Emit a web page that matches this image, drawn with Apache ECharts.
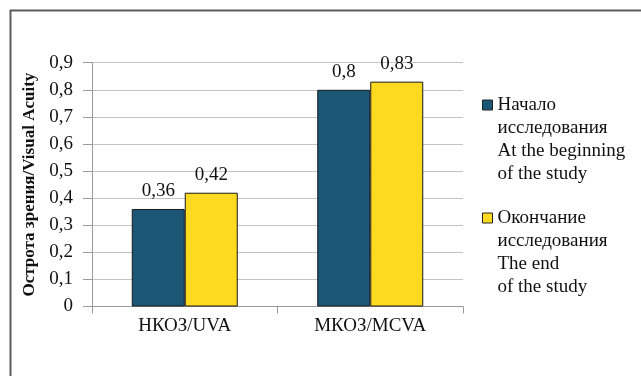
<!DOCTYPE html>
<html>
<head>
<meta charset="utf-8">
<script src="https://cdn.jsdelivr.net/npm/echarts@6/dist/echarts.min.js"></script>
<style>
  html, body { margin: 0; padding: 0; background: #ffffff; }
  #chart { width: 641px; height: 376px; }
</style>
</head>
<body>
<div id="chart"></div>
<script>
// Visual acuity before and after the study
const categories = ['НКОЗ/UVA', 'МКОЗ/MCVA'];
const seriesNames = [
  'Начало\nисследования\nAt the beginning\nof the study',
  'Окончание\nисследования\nThe end\nof the study'
];
const startValues = [0.36, 0.8];
const endValues = [0.42, 0.83];
const yTicks = { min: 0, max: 0.9, step: 0.1 };

const FONT = '"Liberation Serif", "Times New Roman", serif';
const FS = 19;
const LINE_H = 23;
const comma = v => (v === 0 ? '0' : String(+v.toFixed(2)).replace('.', ','));

const chart = echarts.init(document.getElementById('chart'), null, { renderer: 'canvas' });

// Three blank lines ahead of the name keep the marker level with its first line
const legendBase = {
  orient: 'vertical',
  left: 482,
  padding: 0,
  itemWidth: 10,
  itemHeight: 10,
  icon: 'rect',
  selectedMode: false,
  itemStyle: { borderColor: '#222', borderWidth: 1 },
  formatter: name => '\n\n\n' + name,
  textStyle: { fontFamily: FONT, fontSize: FS, color: '#111', lineHeight: LINE_H }
};

chart.setOption({
  animation: false,
  backgroundColor: '#ffffff',
  graphic: [{
    type: 'rect',
    left: 8, top: 8,
    shape: { width: 700, height: 420 },
    style: { fill: 'none', stroke: '#5c5c5c', lineWidth: 2 },
    silent: true
  }],
  grid: { left: 92, right: 178, top: 62.7, bottom: 69.5, containLabel: false },
  legend: [
    Object.assign({}, legendBase, { top: 105 - LINE_H * 3.5, data: [seriesNames[0]] }),
    Object.assign({}, legendBase, { top: 218 - LINE_H * 3.5, data: [seriesNames[1]] })
  ],
  xAxis: {
    type: 'category',
    data: categories,
    axisLine: { lineStyle: { color: '#9a9a9a', width: 1 } },
    axisTick: { show: true, length: 7, lineStyle: { color: '#9a9a9a' } },
    axisLabel: { fontFamily: FONT, fontSize: FS, color: '#111', margin: 10 }
  },
  yAxis: {
    type: 'value',
    min: yTicks.min,
    max: yTicks.max,
    interval: yTicks.step,
    name: 'Острота зрения/Visual Acuity',
    nameLocation: 'middle',
    nameGap: 51,
    nameTextStyle: { fontFamily: FONT, fontSize: 17, fontWeight: 'bold', color: '#111' },
    axisLine: { show: true, lineStyle: { color: '#9a9a9a', width: 1 } },
    axisTick: { show: true, length: 9, lineStyle: { color: '#9a9a9a' } },
    axisLabel: { fontFamily: FONT, fontSize: FS, color: '#111', margin: 19, formatter: comma },
    splitLine: { show: true, lineStyle: { color: '#c4c4c4', width: 1 } }
  },
  series: [
    {
      name: seriesNames[0],
      type: 'bar',
      data: startValues,
      barWidth: 53,
      barGap: '0%',
      itemStyle: { color: '#1b5677', borderColor: '#1a1a1a', borderWidth: 1 },
      label: {
        show: true, position: 'top', distance: 8,
        fontFamily: FONT, fontSize: FS, color: '#111',
        formatter: p => comma(p.value)
      }
    },
    {
      name: seriesNames[1],
      type: 'bar',
      data: endValues,
      barWidth: 53,
      barGap: '0%',
      itemStyle: { color: '#fdd91f', borderColor: '#1a1a1a', borderWidth: 1 },
      label: {
        show: true, position: 'top', distance: 8,
        fontFamily: FONT, fontSize: FS, color: '#111',
        formatter: p => comma(p.value)
      }
    }
  ]
});
</script>
</body>
</html>
